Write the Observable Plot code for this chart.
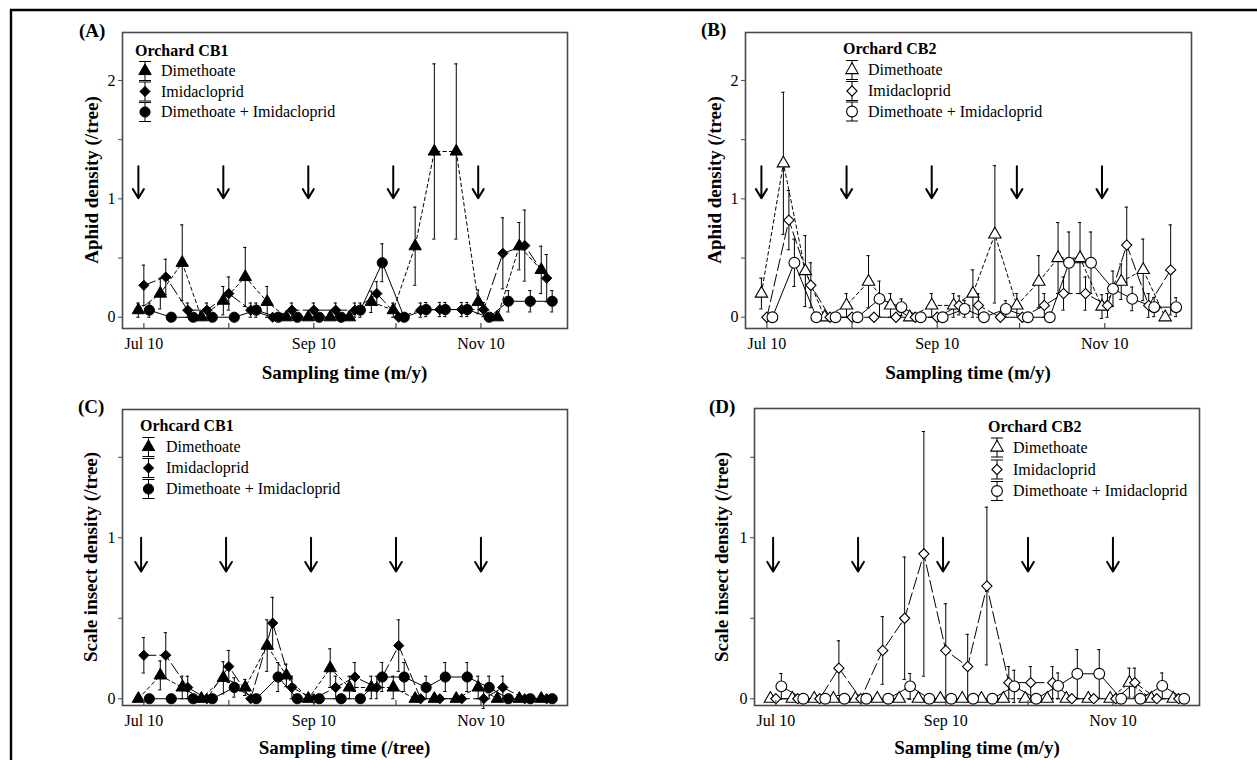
<!DOCTYPE html>
<html>
<head>
<meta charset="utf-8">
<script src="https://cdn.jsdelivr.net/npm/d3@7"></script>
<script src="https://cdn.jsdelivr.net/npm/@observablehq/plot@0.6"></script>
<style>
  html,body{margin:0;padding:0;background:#fff;}
  #page{position:relative;width:1257px;height:760px;overflow:hidden;font-family:"Liberation Serif","Times New Roman",serif;}
  #page > svg{position:absolute;}
</style>
</head>
<body>
<div id="page"></div>
<script>
// ---------- data ----------
const YEAR = 2009;
// sampling dates of each treatment
const dimDates = ["Jul 8","Jul 16","Jul 24","Jul 31","Aug 8","Aug 16","Aug 24","Aug 31","Sep 8","Sep 16","Sep 23","Oct 1","Oct 9","Oct 17","Oct 24","Nov 1","Nov 9","Nov 16","Nov 24","Dec 2"];
const imiDates = ["Jul 10","Jul 18","Jul 26","Aug 2","Aug 10","Aug 18","Aug 26","Sep 2","Sep 10","Sep 18","Sep 25","Oct 3","Oct 11","Oct 19","Oct 26","Nov 3","Nov 11","Nov 18","Nov 26","Dec 4"];
const mixDates = ["Jul 12","Jul 20","Jul 28","Aug 4","Aug 12","Aug 20","Aug 28","Sep 4","Sep 12","Sep 20","Sep 27","Oct 5","Oct 13","Oct 21","Oct 28","Nov 5","Nov 13","Nov 20","Nov 28","Dec 6"];
// spray (treatment) dates shown by arrows
const sprayAB = ["Jul 8","Aug 8","Sep 8","Oct 9","Nov 9"];
const sprayCD = ["Jul 9","Aug 9","Sep 9","Oct 10","Nov 10"];
const arrowAphid = [1.275, 1.005];   // arrow top, tip (y units)
const arrowScale = [1.0, 0.79];

const xTickDates = ["Jul 10","Aug 10","Sep 10","Oct 10","Nov 10"];
const xTickLabels = ["Jul 10","","Sep 10","","Nov 10"];
const yTicksAphid = [0, 0.5, 1, 1.5, 2];
const yTicksScale = [0, 0.5, 1, 1.5];

const treatments = ["Dimethoate","Imidacloprid","Dimethoate + Imidacloprid"];

// (A) Aphid, orchard CB1
const aDim   = [0.06,0.20,0.46,0,0.14,0.34,0.13,0,0,0,0,0.13,0.06,0.60,1.40,1.40,0.13,0,0.60,0.40];
const aDimSE = [0.06,0.13,0.32,0,0.12,0.25,0.13,0,0,0,0,0.09,0.06,0.33,0.74,0.74,0.10,0,0.20,0.20];
const aImi   = [0.27,0.34,0.06,0.06,0.20,0.06,0,0.06,0.06,0.06,0.06,0.20,0,0.06,0.065,0.065,0.065,0.54,0.605,0.33];
const aImiSE = [0.17,0.15,0.06,0.06,0.14,0.06,0,0.06,0.06,0.06,0.06,0.10,0,0.06,0.06,0.06,0.06,0.30,0.30,0.20];
const aMix   = [0.06,0,0,0,0,0.06,0,0,0,0,0.06,0.46,0,0.065,0.065,0.065,0,0.135,0.135,0.135];
const aMixSE = [0.06,0,0,0,0,0.06,0,0,0,0,0.06,0.16,0,0.06,0.06,0.06,0,0.09,0.09,0.09];
// (B) Aphid, orchard CB2
const bDim   = [0.20,1.30,0.39,0,0.10,0.30,0.10,0,0.10,0.10,0.20,0.70,0.10,0.30,0.50,0.50,0.09,0.30,0.40,0];
const bDimSE = [0.13,0.60,0.30,0,0.10,0.22,0.10,0,0.10,0.10,0.20,0.58,0.10,0.22,0.30,0.30,0.10,0.15,0.26,0];
const bImi   = [0,0.82,0.27,0,0,0,0,0,0,0.10,0.10,0,0,0.10,0.20,0.20,0.10,0.61,0.10,0.40];
const bImiSE = [0,0.25,0.19,0,0,0,0,0,0,0.08,0.10,0,0,0.10,0.14,0.14,0.10,0.32,0.10,0.38];
const bMix   = [0,0.46,0,0,0,0.155,0.085,0,0,0.07,0,0.07,0,0,0.46,0.46,0.24,0.155,0.085,0.085];
const bMixSE = [0,0.20,0,0,0,0.15,0.07,0,0,0.07,0,0.07,0,0,0.26,0.26,0.15,0.10,0.08,0.08];
// (C) Scale insect, orchard CB1
const cDim   = [0,0.145,0.07,0,0.13,0.07,0.33,0.145,0,0.19,0.07,0.07,0.07,0,0,0,0.07,0,0,0];
const cDimSE = [0,0.09,0.07,0,0.10,0.05,0.16,0.07,0,0.12,0.07,0.07,0.07,0,0,0,0.07,0,0,0];
const cImi   = [0.27,0.27,0.07,0,0.20,0,0.47,0.07,0,0.07,0.135,0.07,0.33,0,0,0,0,0.07,0,0];
const cImiSE = [0.11,0.14,0.07,0,0.10,0,0.16,0.07,0,0.07,0.09,0.07,0.16,0,0,0,0.06,0.07,0,0];
const cMix   = [0,0,0,0,0.07,0,0.135,0,0,0,0,0.135,0.135,0.07,0.135,0.135,0.07,0,0,0];
const cMixSE = [0,0,0,0,0.06,0,0.09,0,0,0,0,0.09,0.09,0.07,0.09,0.09,0.07,0,0,0];
// (D) Scale insect, orchard CB2
const dDim   = [0,0,0,0,0,0,0,0,0,0,0,0,0,0,0,0,0,0.10,0,0];
const dDimSE = [0,0,0,0,0,0,0,0,0,0,0,0,0,0,0,0,0,0.09,0,0];
const dImi   = [0,0,0,0.19,0,0.30,0.50,0.90,0.30,0.20,0.70,0.10,0.10,0.10,0,0,0,0.10,0,0];
const dImiSE = [0,0,0,0.17,0,0.21,0.38,0.76,0.29,0.20,0.49,0.10,0.10,0.10,0,0,0,0.09,0,0];
const dMix   = [0.077,0,0,0,0,0,0.077,0,0,0,0,0.077,0,0.08,0.155,0.155,0,0,0.08,0];
const dMixSE = [0.08,0,0,0,0,0,0.08,0,0,0,0,0.10,0,0.08,0.15,0.15,0,0,0.08,0];

// ---------- helpers ----------
const parse = d3.utcParse("%b %d %Y");
const toDate = s => parse(s + " " + YEAR);
const xDomain = [new Date(Date.UTC(YEAR, 6, 2, 5)), new Date(Date.UTC(YEAR, 11, 11, 14))];
const DAY = 864e5;
const labelMap = new Map(xTickDates.map((s, i) => [+toDate(s), xTickLabels[i]]));

const kinds = [
  {symbol: "triangle", r: 4.6, dash: "3.5,3"},
  {symbol: "diamond2", r: 4.6, dash: "12,4"},
  {symbol: "circle",   r: 5.1, dash: null}
];
const FRAME = "#4a4a4a";

const page = document.getElementById("page");

function makePanel(p) {
  const ml = 40, mr = 12, mt = 12, mb = 32;
  const rows = [];
  p.series.forEach((s, k) => s.v.forEach((v, i) => rows.push({k, date: toDate(s.dates[i]), v, se: s.se[i]})));
  const withSE = rows.filter(d => d.se > 0);
  const marks = [];
  // error bars
  marks.push(Plot.ruleX(withSE, {x: "date", y1: d => d.v - d.se, y2: d => d.v + d.se, stroke: "#000", strokeWidth: 1}));
  marks.push(Plot.ruleY(withSE, {y: d => d.v + d.se, x1: d => new Date(+d.date - 0.6 * DAY), x2: d => new Date(+d.date + 0.6 * DAY), stroke: "#000", strokeWidth: 1}));
  marks.push(Plot.ruleY(withSE, {y: d => d.v - d.se, x1: d => new Date(+d.date - 0.6 * DAY), x2: d => new Date(+d.date + 0.6 * DAY), stroke: "#000", strokeWidth: 1}));
  // lines
  kinds.forEach((kd, k) => {
    marks.push(Plot.line(rows.filter(d => d.k === k), {x: "date", y: "v", stroke: "#000", strokeWidth: 1, strokeDasharray: kd.dash}));
  });
  // markers
  kinds.forEach((kd, k) => {
    marks.push(Plot.dot(rows.filter(d => d.k === k), {
      x: "date", y: "v", symbol: () => kd.symbol, r: p.open && k === 2 ? 5.4 : kd.r,
      fill: p.open ? "#fff" : "#000", stroke: "#000", strokeWidth: p.open ? 1.1 : 1
    }));
  });
  // treatment arrows
  marks.push(Plot.arrow(p.spray, {
    x1: d => toDate(d), x2: d => toDate(d), y1: () => p.arrow[0], y2: () => p.arrow[1],
    stroke: "#000", strokeWidth: 2, headLength: 12, headAngle: 62
  }));
  // frame & axes
  marks.push(Plot.frame({stroke: FRAME, strokeWidth: 1.6}));
  marks.push(Plot.tickX(xTickDates, {x: d => toDate(d), stroke: FRAME, strokeWidth: 1.2, insetTop: p.H - 5}));
  marks.push(Plot.axisX(xTickDates.map(toDate), {tickSize: 0, tickPadding: 9, tickFormat: d => labelMap.get(+d) ?? "", label: null}));
  marks.push(Plot.axisY(p.yTicks, {tickSize: 4, tickPadding: 3, stroke: FRAME, tickFormat: d => Number.isInteger(d) ? String(d) : "", label: null}));

  const svg = Plot.plot({
    width: ml + p.W + mr, height: mt + p.H + mb,
    marginLeft: ml, marginRight: mr, marginTop: mt, marginBottom: mb,
    x: {type: "utc", domain: xDomain},
    y: {domain: p.yDomain},
    style: {fontFamily: '"Liberation Serif", serif', fontSize: "16px", color: "#000", background: "transparent", overflow: "visible"},
    marks
  });
  svg.style.position = "absolute";
  svg.style.left = (p.left - ml) + "px";
  svg.style.top = (p.top - mt) + "px";
  svg.style.maxWidth = "none";
  page.appendChild(svg);
}

const panels = [
  {left: 122, top: 32, W: 445, H: 296, yDomain: [-0.095, 2.405], yTicks: yTicksAphid, spray: sprayAB, arrow: arrowAphid, open: false,
   series: [{dates: dimDates, v: aDim, se: aDimSE}, {dates: imiDates, v: aImi, se: aImiSE}, {dates: mixDates, v: aMix, se: aMixSE}]},
  {left: 745, top: 32, W: 446, H: 296, yDomain: [-0.095, 2.405], yTicks: yTicksAphid, spray: sprayAB, arrow: arrowAphid, open: true,
   series: [{dates: dimDates, v: bDim, se: bDimSE}, {dates: imiDates, v: bImi, se: bImiSE}, {dates: mixDates, v: bMix, se: bMixSE}]},
  {left: 122, top: 409, W: 445, H: 296, yDomain: [-0.042, 1.797], yTicks: yTicksScale, spray: sprayCD, arrow: arrowScale, open: false,
   series: [{dates: dimDates, v: cDim, se: cDimSE}, {dates: imiDates, v: cImi, se: cImiSE}, {dates: mixDates, v: cMix, se: cMixSE}]},
  {left: 754, top: 408, W: 445, H: 297, yDomain: [-0.042, 1.803], yTicks: yTicksScale, spray: sprayCD, arrow: arrowScale, open: true,
   series: [{dates: dimDates, v: dDim, se: dDimSE}, {dates: imiDates, v: dImi, se: dImiSE}, {dates: mixDates, v: dMix, se: dMixSE}]}
];
panels.forEach(makePanel);

// ---------- annotations: outer frame, panel letters, axis titles, legends ----------
const ov = d3.select(page).append("svg")
  .attr("width", 1257).attr("height", 760)
  .style("left", "0px").style("top", "0px").style("pointer-events", "none")
  .style("font-family", '"Liberation Serif", serif');

ov.append("path").attr("d", "M11,760V10H1257").attr("fill", "none").attr("stroke", "#000").attr("stroke-width", 2.4);

const letters = [["(A)", 79, 37], ["(B)", 701, 36], ["(C)", 78, 413], ["(D)", 709, 413]];
letters.forEach(([t, x, y]) => ov.append("text").attr("x", x).attr("y", y).attr("font-size", 19).attr("font-weight", "bold").text(t));

const yTitles = [["Aphid density (/tree)", 91.5, 180], ["Aphid density (/tree)", 714.5, 180],
                 ["Scale insect density (/tree)", 90.5, 557], ["Scale insect density (/tree)", 721, 557]];
yTitles.forEach(([t, x, y]) => ov.append("text").attr("transform", `translate(${x},${y}) rotate(-90)`)
  .attr("text-anchor", "middle").attr("dy", "0.35em").attr("font-size", 19).attr("font-weight", "bold").text(t));

const xTitles = [["Sampling time (m/y)", 344.5, 379], ["Sampling time (m/y)", 968, 379],
                 ["Sampling time (/tree)", 344.5, 754], ["Sampling time (m/y)", 977, 754]];
xTitles.forEach(([t, x, y]) => ov.append("text").attr("x", x).attr("y", y)
  .attr("text-anchor", "middle").attr("font-size", 19).attr("font-weight", "bold").text(t));

const legends = [
  {title: "Orchard CB1", tx: 135, ty: 55.5, sx: 145, lx: 161, rows: [76, 96.5, 117], open: false},
  {title: "Orchard CB2", tx: 843, ty: 54, sx: 852, lx: 868, rows: [75, 96, 116.5], open: true},
  {title: "Orhcard CB1", tx: 140, ty: 431, sx: 148.5, lx: 166, rows: [452, 473, 494], open: false},
  {title: "Orchard CB2", tx: 988, ty: 432, sx: 997, lx: 1013, rows: [452.5, 474.5, 496], open: true}
];
const symMap = {triangle: d3.symbolTriangle, diamond2: d3.symbolDiamond2, circle: d3.symbolCircle};
legends.forEach(L => {
  ov.append("text").attr("x", L.tx).attr("y", L.ty).attr("font-size", 16).attr("font-weight", "bold").text(L.title);
  L.rows.forEach((by, k) => {
    const cy = by - 5, cx = L.sx;
    const g = ov.append("g").attr("stroke", "#000").attr("stroke-width", 1).attr("fill", "none");
    g.append("line").attr("x1", cx).attr("x2", cx).attr("y1", cy - 9.5).attr("y2", cy + 9.5);
    g.append("line").attr("x1", cx - 6).attr("x2", cx + 6).attr("y1", cy - 9.5).attr("y2", cy - 9.5);
    g.append("line").attr("x1", cx - 6).attr("x2", cx + 6).attr("y1", cy + 9.5).attr("y2", cy + 9.5);
    const kd = kinds[k];
    const r = L.open && k === 2 ? 5.4 : kd.r;
    g.append("path").attr("transform", `translate(${cx},${cy})`)
      .attr("d", d3.symbol(symMap[kd.symbol], Math.PI * r * r)())
      .attr("fill", L.open ? "#fff" : "#000").attr("stroke-width", L.open ? 1.1 : 1);
    ov.append("text").attr("x", L.lx).attr("y", by).attr("font-size", 16).text(treatments[k]);
  });
});
</script>
</body>
</html>
